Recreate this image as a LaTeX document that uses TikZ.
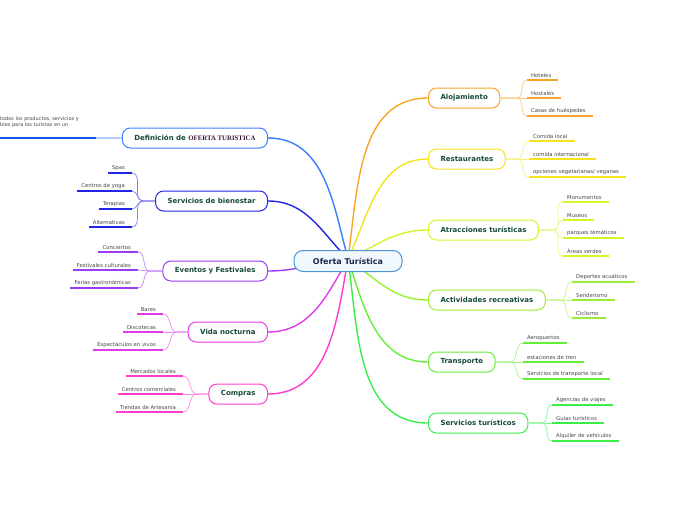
\documentclass[tikz,border=0pt]{standalone}
\usepackage{fontspec}
\setmainfont{DejaVu Sans}
\newfontfamily\capsfont{Liberation Serif}
\usetikzlibrary{positioning}

\definecolor{cDef}{HTML}{3D7EFF}
\definecolor{cDefDark}{HTML}{1256E8}
\definecolor{cWell}{HTML}{2424E6}
\definecolor{cEvent}{HTML}{9A3CF5}
\definecolor{cNight}{HTML}{E23BE8}
\definecolor{cShop}{HTML}{FF3DCB}
\definecolor{cAloj}{HTML}{F7A428}
\definecolor{cRest}{HTML}{F7E21E}
\definecolor{cAttr}{HTML}{D5F526}
\definecolor{cAct}{HTML}{9BEE33}
\definecolor{cTrans}{HTML}{66EE3A}
\definecolor{cServ}{HTML}{3AEE4A}
\definecolor{hubline}{HTML}{4E95D6}
\definecolor{hubfill}{HTML}{F0F7FD}
\definecolor{hubtext}{HTML}{1B2A4E}
\definecolor{topictext}{HTML}{174A3C}
\definecolor{leafgray}{HTML}{444444}
\definecolor{capsc}{HTML}{3A1838}

\begin{document}
\begin{tikzpicture}[x=1pt,y=-1pt]
\tikzstyle{topic} = [rectangle, rounded corners=8pt, minimum height=20pt, inner xsep=12pt, fill=white, line width=1pt, text=topictext, font=\fontsize{7}{8}\selectfont\bfseries]
\tikzstyle{branch} = [line width=1.4pt]
\tikzstyle{stub} = [line width=1.6pt]
\tikzstyle{twig} = [line width=0.7pt]
\tikzstyle{leaf} = [inner xsep=0pt, inner ysep=1.8pt, text=leafgray, font=\fontsize{5.3}{6}\selectfont, append after command={([xshift=-4pt]\tikzlastnode.south west) edge[line width=1.3pt, draw=#1] ([xshift=7pt]\tikzlastnode.south east)}]

\useasboundingbox (0,0) rectangle (696,520);
\clip (0,0) rectangle (696,520);
\coordinate (core) at (348,259);

% main topics, right side
\node (aloj) [topic, draw=cAloj, anchor=west] at (428,98) {Alojamiento};
\node (rest) [topic, draw=cRest, anchor=west] at (428,159) {Restaurantes};
\node (attr) [topic, draw=cAttr, anchor=west] at (428,230) {Atracciones turísticas};
\node (act) [topic, draw=cAct, anchor=west] at (428,300) {Actividades recreativas};
\node (trans) [topic, draw=cTrans, anchor=west] at (428,362) {Transporte};
\node (serv) [topic, draw=cServ, anchor=west] at (428,423) {Servicios turísticos};

% main topics, left side
\node (def) [topic, draw=cDef, anchor=east] at (268,138) {Definición de {\capsfont\fontsize{6.8}{7}\selectfont\color{capsc}OFERTA TURISTICA}};
\node (well) [topic, draw=cWell, anchor=east] at (268,201) {Servicios de bienestar};
\node (event) [topic, draw=cEvent, anchor=east] at (268,271) {Eventos y Festivales};
\node (night) [topic, draw=cNight, anchor=east] at (268,332) {Vida nocturna};
\node (shop) [topic, draw=cShop, anchor=east] at (268,394) {Compras};

\draw [branch, cAloj] (core) to[out=82, in=180] (aloj.west);
\draw [branch, cRest] (core) to[out=65, in=180] (rest.west);
\draw [branch, cAttr] (core) to[out=25, in=180] (attr.west);
\draw [branch, cAct] (core) to[out=-35, in=180] (act.west);
\draw [branch, cTrans] (core) to[out=-72, in=180] (trans.west);
\draw [branch, cServ] (core) to[out=-82, in=180] (serv.west);
\draw [branch, cDef] (core) to[out=105, in=0] (def.east);
\draw [branch, cWell] (core) to[out=135, in=0] (well.east);
\draw [branch, cEvent] (core) to[out=185, in=0] (event.east);
\draw [branch, cNight] (core) to[out=-120, in=0] (night.east);
\draw [branch, cShop] (core) to[out=-100, in=0] (shop.east);

% Alojamiento
\coordinate (alojj) at (517,98);
\node (hot) [leaf=cAloj, anchor=south west] at (531,80) {Hoteles};
\node (hos) [leaf=cAloj, anchor=south west] at (531,98) {Hostales};
\node (cas) [leaf=cAloj, anchor=south west] at (531,116) {Casas de huéspedes};
\draw [stub, cAloj!45] (aloj.east) -- (alojj);
\draw [twig, cAloj!60] (alojj) to[out=0, in=180] ([xshift=-4pt]hot.south west);
\draw [twig, cAloj!60] (alojj) -- ([xshift=-4pt]hos.south west);
\draw [twig, cAloj!60] (alojj) to[out=0, in=180] ([xshift=-4pt]cas.south west);

% Restaurantes
\coordinate (restj) at (517,159);
\node (loc) [leaf=cRest, anchor=south west] at (533,141) {Comida local};
\node (int) [leaf=cRest, anchor=south west] at (533,159) {comida internacional};
\node (veg) [leaf=cRest, anchor=south west] at (533,177) {opciones vegetarianas/ veganas};
\draw [stub, cRest!45] (rest.east) -- (restj);
\draw [twig, cRest!60] (restj) to[out=0, in=180] ([xshift=-4pt]loc.south west);
\draw [twig, cRest!60] (restj) -- ([xshift=-4pt]int.south west);
\draw [twig, cRest!60] (restj) to[out=0, in=180] ([xshift=-4pt]veg.south west);

% Atracciones
\coordinate (attrj) at (553,230);
\node (mon) [leaf=cAttr, anchor=south west] at (567,202) {Monumentos};
\node (mus) [leaf=cAttr, anchor=south west] at (567,220) {Museos};
\node (par) [leaf=cAttr, anchor=south west] at (567,238) {parques temáticos};
\node (are) [leaf=cAttr, anchor=south west] at (567,256) {Áreas verdes};
\draw [stub, cAttr!45] (attr.east) -- (attrj);
\draw [twig, cAttr!60] (attrj) to[out=0, in=180] ([xshift=-4pt]mon.south west);
\draw [twig, cAttr!60] (attrj) to[out=0, in=180] ([xshift=-4pt]mus.south west);
\draw [twig, cAttr!60] (attrj) to[out=0, in=180] ([xshift=-4pt]par.south west);
\draw [twig, cAttr!60] (attrj) to[out=0, in=180] ([xshift=-4pt]are.south west);

% Actividades
\coordinate (actj) at (560,300);
\node (dep) [leaf=cAct, anchor=south west] at (576,282) {Deportes acuáticos};
\node (sen) [leaf=cAct, anchor=south west] at (576,300) {Senderismo};
\node (cic) [leaf=cAct, anchor=south west] at (576,318) {Ciclismo};
\draw [stub, cAct!45] (act.east) -- (actj);
\draw [twig, cAct!60] (actj) to[out=0, in=180] ([xshift=-4pt]dep.south west);
\draw [twig, cAct!60] (actj) -- ([xshift=-4pt]sen.south west);
\draw [twig, cAct!60] (actj) to[out=0, in=180] ([xshift=-4pt]cic.south west);

% Transporte
\coordinate (transj) at (510,362);
\node (aer) [leaf=cTrans, anchor=south west] at (527,343) {Aeropuertos};
\node (est) [leaf=cTrans, anchor=south west] at (527,362) {estaciones de tren};
\node (tlo) [leaf=cTrans, anchor=south west] at (527,379) {Servicios de transporte local};
\draw [stub, cTrans!45] (trans.east) -- (transj);
\draw [twig, cTrans!60] (transj) to[out=0, in=180] ([xshift=-4pt]aer.south west);
\draw [twig, cTrans!60] (transj) -- ([xshift=-4pt]est.south west);
\draw [twig, cTrans!60] (transj) to[out=0, in=180] ([xshift=-4pt]tlo.south west);

% Servicios turisticos
\coordinate (servj) at (542,423);
\node (age) [leaf=cServ, anchor=south west] at (556,405) {Agencias de viajes};
\node (gui) [leaf=cServ, anchor=south west] at (556,423) {Guías turísticos};
\node (alq) [leaf=cServ, anchor=south west] at (556,441) {Alquiler de vehículos};
\draw [stub, cServ!45] (serv.east) -- (servj);
\draw [twig, cServ!60] (servj) to[out=0, in=180] ([xshift=-4pt]age.south west);
\draw [twig, cServ!60] (servj) -- ([xshift=-4pt]gui.south west);
\draw [twig, cServ!60] (servj) to[out=0, in=180] ([xshift=-4pt]alq.south west);

% Definicion
\node (deftxt) [inner sep=0pt, anchor=north west, align=left, text=leafgray, font=\fontsize{5}{6.2}\selectfont] at (0,116) {todos los productos, servicios y\\bles para los turistas en un};
\coordinate (defa) at (0,138);
\coordinate (defb) at (96,138);
\draw [line width=1.5pt, cDefDark] (defa) -- (defb);
\draw [stub, cDef!40] (defb) -- (def.west);

% Servicios de bienestar
\coordinate (wellj) at (143,201);
\node (spa) [leaf=cWell, anchor=south east] at (125,173) {Spas};
\node (yog) [leaf=cWell, anchor=south east] at (125,191) {Centros de yoga};
\node (ter) [leaf=cWell, anchor=south east] at (125,209) {Terapias};
\node (alt) [leaf=cWell, anchor=south east] at (125,227) {Alternativas};
\draw [stub, cWell!45] (well.west) -- (wellj);
\draw [twig, cWell!60] (wellj) to[out=180, in=0] ([xshift=7pt]spa.south east);
\draw [twig, cWell!60] (wellj) to[out=180, in=0] ([xshift=7pt]yog.south east);
\draw [twig, cWell!60] (wellj) to[out=180, in=0] ([xshift=7pt]ter.south east);
\draw [twig, cWell!60] (wellj) to[out=180, in=0] ([xshift=7pt]alt.south east);

% Eventos
\coordinate (eventj) at (150,271);
\node (con) [leaf=cEvent, anchor=south east] at (131,252) {Conciertos};
\node (fes) [leaf=cEvent, anchor=south east] at (131,270) {Festivales culturales};
\node (fer) [leaf=cEvent, anchor=south east] at (131,288) {Ferias gastronómicas};
\draw [stub, cEvent!45] (event.west) -- (eventj);
\draw [twig, cEvent!60] (eventj) to[out=180, in=0] ([xshift=7pt]con.south east);
\draw [twig, cEvent!60] (eventj) -- ([xshift=7pt]fes.south east);
\draw [twig, cEvent!60] (eventj) to[out=180, in=0] ([xshift=7pt]fer.south east);

% Vida nocturna
\coordinate (nightj) at (177,332);
\node (bar) [leaf=cNight, anchor=south east] at (156,314) {Bares};
\node (dis) [leaf=cNight, anchor=south east] at (156,332) {Discotecas};
\node (esp) [leaf=cNight, anchor=south east] at (156,350) {Espectáculos en vivos};
\draw [stub, cNight!45] (night.west) -- (nightj);
\draw [twig, cNight!60] (nightj) to[out=180, in=0] ([xshift=7pt]bar.south east);
\draw [twig, cNight!60] (nightj) -- ([xshift=7pt]dis.south east);
\draw [twig, cNight!60] (nightj) to[out=180, in=0] ([xshift=7pt]esp.south east);

% Compras
\coordinate (shopj) at (197,394);
\node (mer) [leaf=cShop, anchor=south east] at (176,376) {Mercados locales};
\node (cen) [leaf=cShop, anchor=south east] at (176,394) {Centros comerciales};
\node (tie) [leaf=cShop, anchor=south east] at (176,412) {Tiendas de Artesanía};
\draw [stub, cShop!45] (shop.west) -- (shopj);
\draw [twig, cShop!60] (shopj) to[out=180, in=0] ([xshift=7pt]mer.south east);
\draw [twig, cShop!60] (shopj) -- ([xshift=7pt]cen.south east);
\draw [twig, cShop!60] (shopj) to[out=180, in=0] ([xshift=7pt]tie.south east);

% centre
\node (hub) [rectangle, rounded corners=9pt, draw=hubline, fill=hubfill, line width=1pt, minimum width=108pt, minimum height=21pt, text=hubtext, font=\fontsize{8}{9}\selectfont\bfseries] at (348,261) {Oferta Turística};

\end{tikzpicture}
\end{document}
